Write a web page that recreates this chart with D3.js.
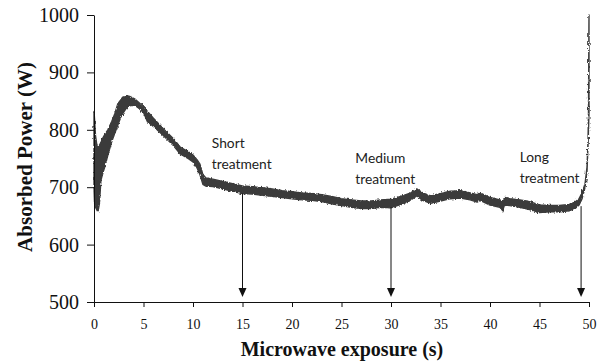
<!DOCTYPE html>
<html>
<head>
<meta charset="utf-8">
<script src="https://cdn.jsdelivr.net/npm/d3@7"></script>
<style>
  body { margin: 0; background: #fff; }
  svg { display: block; }
  .serif text, text.serif { font-family: "Liberation Serif", "Times New Roman", serif; }
</style>
</head>
<body>
<svg id="chart" width="606" height="363"></svg>
<script>
const times = [0, 0.05, 0.15, 0.3, 0.4, 0.55, 0.7, 0.9, 1.1, 1.4, 1.8, 2.1, 2.4, 2.7, 2.9, 3.2, 3.4, 3.6, 4.1, 4.5,
  5.0, 5.4, 6.0, 7.0, 8.0, 8.7, 9.5, 10.0, 10.4, 10.7, 11.0, 11.3, 12.0, 13.0, 14.0, 15.0, 16.0, 17.0, 18.0, 19.0,
  20.0, 21.0, 22.0, 23.0, 24.0, 25.0, 26.0, 27.0, 28.0, 29.0, 30.0, 31.0, 32.0, 32.6, 33.2, 34.0, 35.0, 36.0, 37.0,
  38.0, 38.7, 39.0, 40.0, 41.0, 41.3, 41.5, 42.0, 43.0, 44.0, 45.0, 46.0, 47.0, 48.0, 48.6, 49.0, 49.3, 49.6, 49.8,
  49.9, 49.95, 50.0];
const upper = [832, 820, 790, 772, 770, 773, 778, 786, 792, 800, 815, 828, 845, 852, 857, 858, 859, 858, 854, 848,
  840, 832, 820, 802, 785, 770, 762, 756, 748, 740, 722, 716, 714, 710, 706, 702, 701, 699, 697, 694,
  692, 690, 689, 687, 684, 680, 678, 676, 676, 678, 679, 684, 690, 697, 690, 685, 689, 693, 694,
  690, 687, 690, 682, 678, 673, 682, 680, 678, 675, 669, 668, 668, 670, 674, 680, 690, 706, 735,
  780, 830, 1000];
const lower = [700, 675, 665, 660, 657, 672, 712, 725, 736, 756, 780, 794, 808, 822, 828, 836, 840, 842, 843, 838,
  830, 814, 806, 790, 773, 758, 750, 744, 734, 722, 705, 702, 701, 697, 693, 689, 688, 686, 684, 682,
  680, 678, 677, 675, 671, 668, 665, 663, 663, 665, 664, 670, 678, 685, 677, 672, 676, 680, 681,
  678, 674, 677, 669, 665, 659, 669, 668, 665, 661, 656, 657, 657, 659, 663, 669, 680, 700, 728,
  772, 800, 830];

const xTicks = [0, 5, 10, 15, 20, 25, 30, 35, 40, 45, 50];
const yTicks = [500, 600, 700, 800, 900, 1000];

// arrows: time, value where the arrow leaves the trace, label lines
const marks = [
  { t: 15, top: 689, lines: ["Short", "treatment"], tx: 11.9, ty: 768 },
  { t: 30, top: 665, lines: ["Medium", "treatment"], tx: 26.4, ty: 743 },
  { t: 49.2, top: 667, lines: ["Long", "treatment"], tx: 43.0, ty: 744 }
];

const svg = d3.select("#chart");
const x = d3.scaleLinear().domain([0, 50]).range([94, 589]);
const y = d3.scaleLinear().domain([500, 1000]).range([302, 15]);

// roughen the band edges so it reads like a noisy signal trace
const rough = svg.append("defs").append("filter")
  .attr("id", "rough")
  .attr("x", "-5%").attr("y", "-5%").attr("width", "110%").attr("height", "110%");
rough.append("feTurbulence")
  .attr("type", "fractalNoise")
  .attr("baseFrequency", "0.7 0.35")
  .attr("numOctaves", 2)
  .attr("seed", 3)
  .attr("result", "noise");
rough.append("feDisplacementMap")
  .attr("in", "SourceGraphic")
  .attr("in2", "noise")
  .attr("scale", 3.2)
  .attr("xChannelSelector", "R")
  .attr("yChannelSelector", "G");

const band = times.map((t, i) => ({ t, hi: upper[i], lo: lower[i] }));

svg.append("path")
  .datum(band)
  .attr("d", d3.area().x(d => x(d.t)).y0(d => y(d.lo)).y1(d => y(d.hi)))
  .attr("fill", "#3b3b3b")
  .attr("stroke", "#3b3b3b")
  .attr("stroke-width", 1.4)
  .attr("stroke-linejoin", "round")
  .attr("filter", "url(#rough)");

// axes
const xAxis = svg.append("g")
  .attr("class", "serif")
  .attr("transform", "translate(0,302)")
  .call(d3.axisBottom(x).tickValues(xTicks).tickSize(5).tickPadding(12).tickSizeOuter(0));
xAxis.selectAll("text").attr("font-size", 14);

const yAxis = svg.append("g")
  .attr("class", "serif")
  .attr("transform", "translate(94,0)")
  .call(d3.axisLeft(y).tickValues(yTicks).tickFormat(d3.format("d")).tickSize(7).tickPadding(8).tickSizeOuter(0));
yAxis.selectAll("text").attr("font-size", 20);

svg.selectAll(".tick text").attr("fill", "#111");
svg.selectAll(".domain, .tick line").attr("stroke", "#111");

svg.append("text")
  .attr("class", "serif")
  .attr("x", 342).attr("y", 356)
  .attr("text-anchor", "middle")
  .attr("font-weight", "bold")
  .attr("font-size", 20)
  .attr("fill", "#111")
  .text("Microwave exposure (s)");

svg.append("text")
  .attr("class", "serif")
  .attr("transform", "translate(32,157) rotate(-90)")
  .attr("text-anchor", "middle")
  .attr("font-weight", "bold")
  .attr("font-size", 21)
  .attr("fill", "#111")
  .text("Absorbed Power (W)");

// arrows and labels
const ann = svg.append("g");
marks.forEach(m => {
  const px = x(m.t);
  const tip = 297;
  ann.append("line")
    .attr("x1", px).attr("x2", px)
    .attr("y1", y(m.top)).attr("y2", tip - 8)
    .attr("stroke", "#111").attr("stroke-width", 1);
  ann.append("path")
    .attr("d", `M${px - 4},${tip - 9}L${px + 4},${tip - 9}L${px},${tip}Z`)
    .attr("fill", "#111");
  const txt = ann.append("text")
    .attr("font-family", "Lato, 'Open Sans', sans-serif")
    .attr("font-size", 13.8)
    .attr("fill", "#222");
  m.lines.forEach((s, i) => {
    txt.append("tspan")
      .attr("x", x(m.tx))
      .attr("y", y(m.ty) + i * 21)
      .text(s);
  });
});
</script>
</body>
</html>
